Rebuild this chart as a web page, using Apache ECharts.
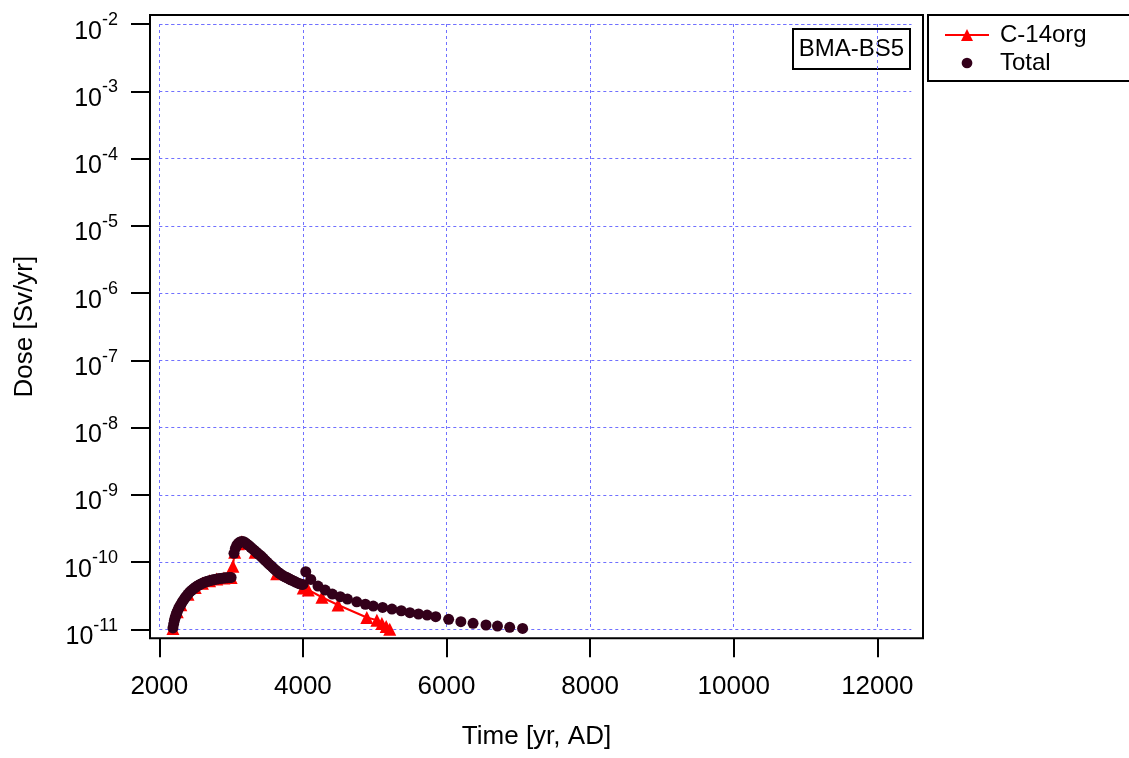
<!DOCTYPE html>
<html>
<head>
<meta charset="utf-8">
<script src="https://cdn.jsdelivr.net/npm/echarts@6/dist/echarts.min.js"></script>
<style>
  html, body { margin: 0; padding: 0; background: #ffffff; }
  #chart { width: 1129px; height: 758px; }
</style>
</head>
<body>
<div id="chart"></div>
<script>
// Total dose from all nuclides, BMA-BS5 [Sv/yr] against calendar year
const totalYears = [
  2190, 2200, 2210, 2220, 2230, 2240, 2250, 2265, 2280, 2300, 2320, 2340, 2360, 2380, 2400,
  2425, 2450, 2475, 2500, 2525, 2550, 2575, 2600, 2625, 2650, 2675, 2700, 2725, 2750, 2775,
  2800, 2825, 2850, 2875, 2900, 2925, 2950, 2975, 3000,
  3040, 3060, 3080, 3100, 3125, 3150, 3175, 3200, 3225, 3250, 3275, 3300, 3325, 3350, 3375,
  3400, 3425, 3450, 3475, 3500, 3525, 3550, 3575, 3600, 3625, 3650, 3675, 3700, 3725, 3750,
  3775, 3800, 3825, 3850, 3875, 3900, 3925, 3950, 3975, 4000,
  4040, 4110, 4210, 4310, 4410, 4520, 4620, 4750, 4870, 4980, 5110, 5240, 5370, 5490, 5610,
  5730, 5850, 6030, 6200, 6370, 6550, 6710, 6880, 7060
];
const totalDose = [
  1.05e-11, 1.2e-11, 1.35e-11, 1.48e-11, 1.6e-11, 1.72e-11, 1.84e-11, 2.0e-11, 2.15e-11, 2.35e-11,
  2.55e-11, 2.75e-11, 2.95e-11, 3.15e-11, 3.35e-11, 3.6e-11, 3.8e-11, 4.0e-11, 4.2e-11, 4.38e-11,
  4.55e-11, 4.7e-11, 4.85e-11, 4.98e-11, 5.1e-11, 5.2e-11, 5.3e-11, 5.38e-11, 5.46e-11, 5.53e-11,
  5.6e-11, 5.66e-11, 5.71e-11, 5.76e-11, 5.8e-11, 5.84e-11, 5.87e-11, 5.9e-11, 5.92e-11,
  1.35e-10, 1.6e-10, 1.78e-10, 1.9e-10, 1.99e-10, 2.03e-10, 2.0e-10, 1.93e-10, 1.84e-10, 1.75e-10,
  1.66e-10, 1.57e-10, 1.49e-10, 1.41e-10, 1.33e-10, 1.27e-10, 1.2e-10, 1.13e-10, 1.06e-10, 1.0e-10,
  9.4e-11, 8.9e-11, 8.4e-11, 7.9e-11, 7.5e-11, 7.1e-11, 6.8e-11, 6.5e-11, 6.25e-11, 6.05e-11,
  5.9e-11, 5.7e-11, 5.5e-11, 5.35e-11, 5.2e-11, 5.05e-11, 4.9e-11, 4.78e-11, 4.7e-11, 4.65e-11,
  7.18e-11, 5.53e-11, 4.4e-11, 3.84e-11, 3.35e-11, 3.06e-11, 2.82e-11, 2.57e-11, 2.36e-11, 2.22e-11,
  2.12e-11, 2.0e-11, 1.89e-11, 1.77e-11, 1.69e-11, 1.63e-11, 1.54e-11, 1.41e-11, 1.3e-11, 1.23e-11,
  1.16e-11, 1.12e-11, 1.07e-11, 1.03e-11
];

// Organic C-14 contribution
const c14Years = [
  2190, 2250, 2300, 2400, 2500, 2600, 2700, 2800, 2900, 3000, 3025, 3050, 3100, 3150, 3200,
  3335, 3635, 4005, 4075, 4265, 4490, 4890, 5030, 5100, 5160, 5210
];
const c14Dose = [
  1.03e-11, 1.82e-11, 2.33e-11, 3.33e-11, 4.18e-11, 4.83e-11, 5.28e-11, 5.58e-11, 5.78e-11, 5.9e-11,
  8.7e-11, 1.4e-10, 1.88e-10, 2.0e-10, 1.9e-10, 1.4e-10, 6.7e-11, 4.1e-11, 3.85e-11, 3.0e-11,
  2.3e-11, 1.5e-11, 1.37e-11, 1.22e-11, 1.1e-11, 1.0e-11
];

const seriesNames = ['C-14org', 'Total'];
const xTickRange = [2000, 12000];
const xTickStep = 2000;
const yDecades = [1e-11, 1e-2];
const xTitle = 'Time [yr, AD]';
const yTitle = 'Dose [Sv/yr]';
const caseLabel = 'BMA-BS5';

// ---- layout (pixels) ----
const FONT = "'Liberation Sans', Arial, Helvetica, sans-serif";
const X_ORIGIN_PX = 159.3;     // pixel position of year 2000
const PX_PER_YEAR = 0.0718;
const Y_TOP_PX = 24;           // pixel position of 1e-2
const DECADE_PX = 67.26;
const Y_BOTTOM_PX = Y_TOP_PX + 9 * DECADE_PX;
const FRAME = { left: 150, top: 15, right: 923, bottom: 638.3 };
const GRID_RIGHT_PX = 911.3;

const yearAt = px => xTickRange[0] + (px - X_ORIGIN_PX) / PX_PER_YEAR;
const doseAt = py => Math.pow(10, -2 - (py - Y_TOP_PX) / DECADE_PX);

// small dot centred in a larger square, so the legend marker stays compact
const legendDot = 'path://M0,0M14,14M2,7A5,5,0,1,1,12,7A5,5,0,1,1,2,7Z';

const gridColor = '#7070ff';
const chart = echarts.init(document.getElementById('chart'), null, { renderer: 'canvas' });

const option = {
  animation: false,
  backgroundColor: '#ffffff',
  textStyle: { fontFamily: FONT },
  grid: [
    { // outer frame that holds the data
      left: FRAME.left, top: FRAME.top,
      width: FRAME.right - FRAME.left, height: FRAME.bottom - FRAME.top,
      show: true, borderColor: '#000', borderWidth: 2, backgroundColor: 'transparent',
      containLabel: false
    },
    { // dashed grid lines
      left: X_ORIGIN_PX, top: Y_TOP_PX,
      width: GRID_RIGHT_PX - X_ORIGIN_PX, height: Y_BOTTOM_PX - Y_TOP_PX,
      containLabel: false
    },
    { // tick marks and labels
      left: X_ORIGIN_PX, top: Y_TOP_PX,
      width: (xTickRange[1] - xTickRange[0]) * PX_PER_YEAR, height: Y_BOTTOM_PX - Y_TOP_PX,
      containLabel: false
    }
  ],
  xAxis: [
    {
      gridIndex: 0, type: 'value',
      min: yearAt(FRAME.left), max: yearAt(FRAME.right),
      name: xTitle, nameLocation: 'middle', nameGap: 86,
      nameTextStyle: { fontSize: 26, color: '#000', fontFamily: FONT, lineHeight: 26 },
      axisLine: { show: false }, axisTick: { show: false }, axisLabel: { show: false },
      splitLine: { show: false }
    },
    {
      gridIndex: 1, type: 'value',
      min: xTickRange[0], max: yearAt(GRID_RIGHT_PX), interval: xTickStep,
      axisLine: { show: false }, axisTick: { show: false }, axisLabel: { show: false },
      splitLine: { show: true, showMinLine: true, showMaxLine: false,
        lineStyle: { color: gridColor, width: 1, type: [3, 3] } }
    },
    {
      gridIndex: 2, type: 'value',
      min: xTickRange[0], max: xTickRange[1], interval: xTickStep,
      position: 'bottom', offset: FRAME.bottom - Y_BOTTOM_PX,
      axisLine: { show: false },
      axisTick: { show: true, inside: false, length: 19, lineStyle: { color: '#000', width: 2 } },
      axisLabel: { show: true, margin: 36, fontSize: 26, lineHeight: 26, color: '#000', fontFamily: FONT,
        formatter: v => String(v) },
      splitLine: { show: false }
    }
  ],
  yAxis: [
    {
      gridIndex: 0, type: 'log', logBase: 10,
      min: doseAt(FRAME.bottom), max: doseAt(FRAME.top),
      name: yTitle, nameLocation: 'middle', nameGap: 112, nameRotate: 90,
      nameTextStyle: { fontSize: 26, color: '#000', fontFamily: FONT, lineHeight: 26 },
      axisLine: { show: false }, axisTick: { show: false }, axisLabel: { show: false },
      splitLine: { show: false }
    },
    {
      gridIndex: 1, type: 'log', logBase: 10,
      min: yDecades[0], max: yDecades[1], splitNumber: 9,
      axisLine: { show: false }, axisTick: { show: false }, axisLabel: { show: false },
      splitLine: { show: true, lineStyle: { color: gridColor, width: 1, type: [3, 3] } }
    },
    {
      gridIndex: 2, type: 'log', logBase: 10,
      min: yDecades[0], max: yDecades[1], splitNumber: 9,
      position: 'left', offset: X_ORIGIN_PX - FRAME.left,
      axisLine: { show: false },
      axisTick: { show: true, inside: false, length: 19, lineStyle: { color: '#000', width: 2 } },
      axisLabel: {
        show: true, margin: 32, color: '#000', fontFamily: FONT,
        padding: [7.5, 0, 0, 0],
        formatter: v => '{b|10}{s|' + Math.round(Math.log10(v)) + '}',
        rich: {
          b: { fontSize: 25, lineHeight: 25, verticalAlign: 'bottom', color: '#000', fontFamily: FONT },
          s: { fontSize: 18, lineHeight: 33, verticalAlign: 'top', color: '#000', fontFamily: FONT }
        }
      },
      splitLine: { show: false }
    }
  ],
  legend: {
    data: [
      { name: seriesNames[0] },
      { name: seriesNames[1], icon: legendDot }
    ],
    orient: 'vertical',
    left: 928, top: 15,
    padding: [6, 50, 4, 16],
    itemGap: 0,
    itemWidth: 44, itemHeight: 15,
    borderColor: '#000', borderWidth: 2, borderRadius: 0,
    backgroundColor: '#fff',
    textStyle: { fontSize: 24, lineHeight: 28, color: '#000', fontFamily: FONT, padding: [0, 0, 0, 6] }
  },
  graphic: [
    {
      type: 'group', left: 792, top: 28, z: 50,
      children: [
        { type: 'rect', shape: { x: 0, y: 0, width: 117, height: 40 },
          style: { fill: '#fff', stroke: '#000', lineWidth: 2 } },
        { type: 'text', x: 58.5, y: 20,
          style: { text: caseLabel, fontSize: 24, fontFamily: FONT, fill: '#000',
                   align: 'center', verticalAlign: 'middle' } }
      ]
    }
  ],
  series: [
    {
      name: seriesNames[0], type: 'line', xAxisIndex: 0, yAxisIndex: 0,
      data: c14Years.map((t, i) => [t, c14Dose[i]]),
      color: '#ff0000',
      lineStyle: { color: '#ff0000', width: 2 },
      itemStyle: { color: '#ff0000' },
      symbol: 'triangle', symbolSize: 13, showAllSymbol: true,
      clip: false, z: 2
    },
    {
      name: seriesNames[1], type: 'scatter', xAxisIndex: 0, yAxisIndex: 0,
      data: totalYears.map((t, i) => [t, totalDose[i]]),
      color: '#33001a',
      itemStyle: { color: '#33001a', opacity: 1 },
      symbol: 'circle', symbolSize: 11,
      clip: false, z: 3
    }
  ]
};

chart.setOption(option);
</script>
</body>
</html>
